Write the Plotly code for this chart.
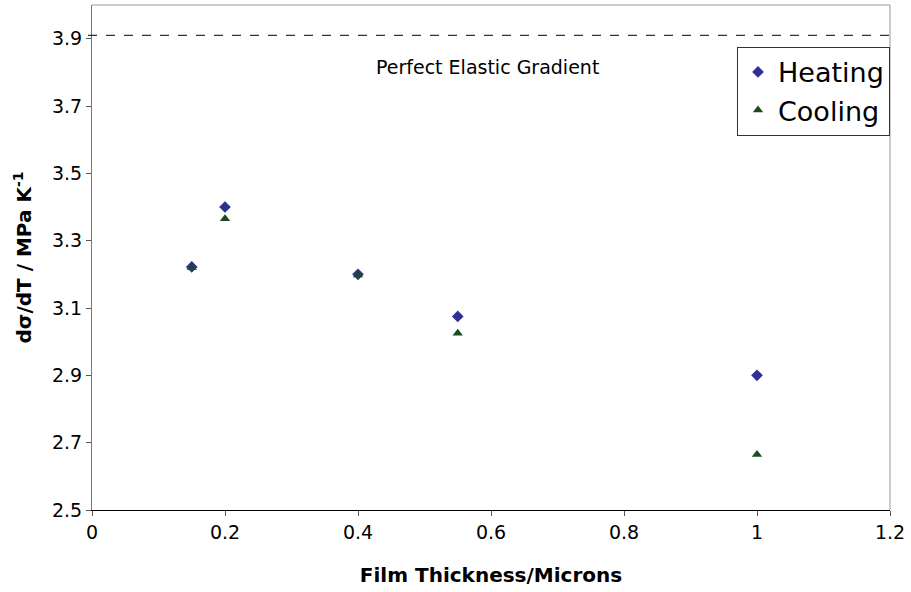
import plotly.graph_objects as go

thickness = [0.15, 0.2, 0.4, 0.55, 1.0]
heating = [3.222, 3.40, 3.20, 3.075, 2.90]
cooling = [3.22, 3.365, 3.198, 3.025, 2.665]
elastic_gradient = 3.91
x_ticks = [0, 0.2, 0.4, 0.6, 0.8, 1, 1.2]
x_tick_labels = ["0", "0.2", "0.4", "0.6", "0.8", "1", "1.2"]
y_ticks = [2.5, 2.7, 2.9, 3.1, 3.3, 3.5, 3.7, 3.9]
y_tick_labels = ["2.5", "2.7", "2.9", "3.1", "3.3", "3.5", "3.7", "3.9"]

FONT = "DejaVu Sans, Verdana, sans-serif"

fig = go.Figure()
fig.add_trace(go.Scatter(x=thickness, y=heating, mode="markers", name="Heating",
                         marker=dict(symbol="diamond", size=9, color="#2E3192")))
fig.add_trace(go.Scatter(x=thickness, y=cooling, mode="markers", name="Cooling",
                         marker=dict(symbol="triangle-up", size=9, color="#1C4A1F")))

fig.add_shape(type="line", xref="paper", yref="y", x0=-0.005, x1=1,
              y0=elastic_gradient, y1=elastic_gradient,
              line=dict(color="black", width=1, dash="dash"))
fig.add_annotation(x=0.595, y=3.815, text="Perfect Elastic Gradient", showarrow=False,
                   font=dict(family=FONT, size=19, color="black"))

fig.update_layout(
    width=911, height=592,
    margin=dict(l=92, r=21, t=5, b=82),
    paper_bgcolor="white", plot_bgcolor="white",
    font=dict(family=FONT, color="black"),
    showlegend=True,
    legend=dict(x=1, y=0.917, xanchor="right", yanchor="top",
                bgcolor="white", bordercolor="#333333", borderwidth=1,
                font=dict(family=FONT, size=27, color="black"),
                itemsizing="trace", tracegroupgap=0, itemwidth=30),
    xaxis=dict(range=[0, 1.2], tickvals=x_ticks, ticktext=x_tick_labels,
               showgrid=False, zeroline=False, showline=True, linecolor="black", linewidth=1,
               mirror=False, ticks="outside", ticklen=5, tickcolor="#555555",
               tickfont=dict(family=FONT, size=19),
               title=dict(text="<b>Film Thickness/Microns</b>", font=dict(family=FONT, size=20),
                          standoff=26)),
    yaxis=dict(range=[2.5, 4.0], tickvals=y_ticks, ticktext=y_tick_labels,
               showgrid=False, zeroline=False, showline=True, linecolor="#777777", linewidth=1,
               mirror=False, ticks="outside", ticklen=5, tickcolor="#555555",
               tickfont=dict(family=FONT, size=19),
               title=dict(text="<b>dσ/dT / MPa K<sup>-1</sup></b>", font=dict(family=FONT, size=20),
                          standoff=14)),
)
# light frame on top and right
fig.add_shape(type="line", xref="paper", yref="paper", x0=0, x1=1, y0=1, y1=1,
              line=dict(color="#999999", width=1))
fig.add_shape(type="line", xref="paper", yref="paper", x0=1, x1=1, y0=0, y1=1,
              line=dict(color="#999999", width=1))

fig.write_html("out.html")
